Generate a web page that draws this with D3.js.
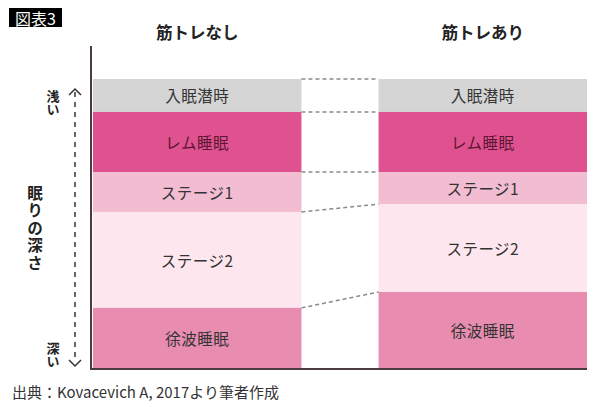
<!DOCTYPE html>
<html>
<head>
<meta charset="utf-8">
<script src="https://cdn.jsdelivr.net/npm/d3@7"></script>
<style>
  body { margin: 0; background: #fff; }
  svg { display: block; font-family: "Noto Sans CJK JP", "Noto Sans", sans-serif; }
</style>
</head>
<body>
<div id="chart"></div>
<script>
// groups and sleep stages (share of the night, %)
var groups = ["筋トレなし", "筋トレあり"];
var stages = ["入眠潜時", "レム睡眠", "ステージ1", "ステージ2", "徐波睡眠"];
var noTraining = [11.4, 20.8, 13.8, 33.2, 20.8];
var withTraining = [11.4, 20.8, 11.1, 30.4, 26.3];
var stageColours = ["#d5d5d5", "#e0528f", "#f2bdd1", "#fde6ee", "#e88db0"];
var stageTextColours = ["#333", "#5b1632", "#333", "#333", "#333"];

var width = 600, height = 407;

var svg = d3.select("#chart").append("svg")
    .attr("width", width)
    .attr("height", height);

var x = d3.scaleBand()
    .domain(groups)
    .range([93, 587])
    .paddingInner(0.27)
    .paddingOuter(0);

var y = d3.scaleLinear()
    .domain([0, 100])
    .range([79, 368]);

// stack values so each stage gets a start / end
function stack(values) {
  var acc = 0;
  return values.map(function(v, i) {
    var d = {stage: stages[i], y0: acc, y1: acc + v, i: i};
    acc += v;
    return d;
  });
}

var series = [noTraining, withTraining].map(function(vals, g) {
  return {group: groups[g], segs: stack(vals)};
});

// bars
var barGrp = svg.append("g").selectAll("g")
    .data(series)
    .enter().append("g");

barGrp.selectAll("rect")
    .data(function(d) { return d.segs.map(function(s) { s.group = d.group; return s; }); })
    .enter().append("rect")
    .attr("x", function(d) { return x(d.group); })
    .attr("width", x.bandwidth())
    .attr("y", function(d) { return y(d.y0); })
    .attr("height", function(d) { return y(d.y1) - y(d.y0); })
    .style("fill", function(d) { return stageColours[d.i]; });

barGrp.selectAll("text")
    .data(function(d) { return d.segs; })
    .enter().append("text")
    .attr("x", function(d) { return x(d.group) + x.bandwidth() / 2; })
    .attr("y", function(d) { return (y(d.y0) + y(d.y1)) / 2; })
    .attr("text-anchor", "middle")
    .attr("dominant-baseline", "central")
    .style("font-size", "15.5px")
    .style("letter-spacing", "0.5px")
    .style("fill", function(d) { return stageTextColours[d.i]; })
    .text(function(d) { return d.stage; });

// dashed connectors between bars
var left = series[0].segs, right = series[1].segs;
var links = left.map(function(d, i) { return {a: d.y0, b: right[i].y0}; });

svg.append("g").selectAll("line")
    .data(links)
    .enter().append("line")
    .attr("x1", x(groups[0]) + x.bandwidth())
    .attr("x2", x(groups[1]))
    .attr("y1", function(d) { return y(d.a); })
    .attr("y2", function(d) { return y(d.b); })
    .style("stroke", "#8a8a8a")
    .style("stroke-width", 1.5)
    .style("stroke-dasharray", "4,3");

// group titles
svg.append("g").selectAll("text")
    .data(groups)
    .enter().append("text")
    .attr("x", function(d) { return x(d) + x.bandwidth() / 2; })
    .attr("y", 39)
    .attr("text-anchor", "middle")
    .style("font-size", "16.5px")
    .style("font-weight", "bold")
    .style("fill", "#222")
    .text(function(d) { return d; });

// axis lines
svg.append("line")
    .attr("x1", 91).attr("x2", 91)
    .attr("y1", 46).attr("y2", 369)
    .style("stroke", "#4a3b40").style("stroke-width", 2);
svg.append("line")
    .attr("x1", 90).attr("x2", 587)
    .attr("y1", 369).attr("y2", 369)
    .style("stroke", "#4a3b40").style("stroke-width", 2);

// depth arrow
var ax = 75;
svg.append("line")
    .attr("x1", ax).attr("x2", ax)
    .attr("y1", 92).attr("y2", 362)
    .style("stroke", "#333").style("stroke-width", 1.5)
    .style("stroke-dasharray", "5,5");
svg.append("path")
    .attr("d", d3.line()([[ax - 6, 95], [ax, 89], [ax + 6, 95]]))
    .style("fill", "none").style("stroke", "#333").style("stroke-width", 1.5);
svg.append("path")
    .attr("d", d3.line()([[ax - 6, 360], [ax, 366], [ax + 6, 360]]))
    .style("fill", "none").style("stroke", "#333").style("stroke-width", 1.5);

// vertical labels
function vtext(str, cx, top, size, spacing) {
  svg.append("text")
      .attr("x", cx)
      .attr("y", top)
      .style("writing-mode", "vertical-rl")
      .style("text-orientation", "upright")
      .style("font-size", size + "px")
      .style("letter-spacing", spacing + "px")
      .style("font-weight", "bold")
      .style("fill", "#222")
      .text(str);
}
vtext("浅い", 53, 90, 13, 0);
vtext("深い", 53, 342, 13, 0);
vtext("眠りの深さ", 35, 185, 15.5, 2);

// figure tag
svg.append("rect")
    .attr("x", 9).attr("y", 8).attr("width", 53).attr("height", 19)
    .style("fill", "#000");
svg.append("text")
    .attr("x", 35.5).attr("y", 18)
    .attr("text-anchor", "middle")
    .attr("dominant-baseline", "central")
    .style("font-size", "16px")
    .style("fill", "#fff")
    .text("図表3");

// source
svg.append("text")
    .attr("x", 12).attr("y", 398)
    .style("font-size", "15px")
    .style("fill", "#333")
    .text("出典：Kovacevich A, 2017より筆者作成");
</script>
</body>
</html>
